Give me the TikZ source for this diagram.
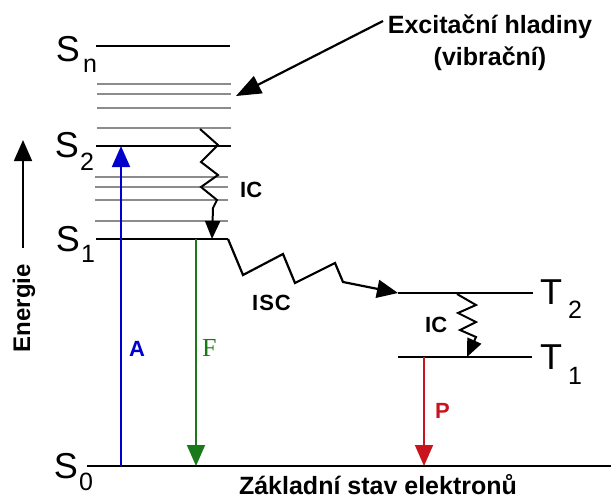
\documentclass[tikz,border=0pt]{standalone}
\usepackage{fontspec}
\setmainfont{Liberation Sans}
\newfontfamily\seriffont{Liberation Serif}
\usetikzlibrary{arrows.meta}
\definecolor{levgray}{HTML}{8C8C8C}
\definecolor{ablue}{HTML}{0000CC}
\definecolor{fgreen}{HTML}{1A7A1A}
\definecolor{pred}{HTML}{C8141E}
\begin{document}
\begin{tikzpicture}[x=1pt,y=-1pt,
  level/.style={line width=2.4pt},
  vib/.style={line width=2.2pt, levgray},
  bigS/.style={font=\fontsize{36}{36}\selectfont, inner sep=0pt},
  sublab/.style={font=\fontsize{25}{25}\selectfont, inner sep=0pt},
  lab/.style={font=\bfseries\fontsize{22}{22}\selectfont, inner sep=0pt},
  bigtip/.style={-{Triangle[length=21pt,width=18pt]}},
  smalltip/.style={-{Triangle[length=18pt,width=15pt]}},
  zig/.style={line width=2pt, line join=miter},
  ]
\useasboundingbox (0,0) rectangle (611,499);

% vibrational levels
\foreach \y in {84,94,108,128} \draw[vib] (97,\y) -- (231,\y);
\foreach \y in {177,187,200,221} \draw[vib] (95,\y) -- (228,\y);

% electronic levels
\coordinate (snL) at (96,46);  \coordinate (snR) at (230,46);
\coordinate (s2L) at (96,146); \coordinate (s2R) at (231,146);
\coordinate (s1L) at (96,239); \coordinate (s1R) at (228,239);
\coordinate (s0L) at (87,466); \coordinate (s0R) at (611,466);
\coordinate (t2L) at (398,293); \coordinate (t2R) at (533,293);
\coordinate (t1L) at (398,357); \coordinate (t1R) at (532,357);
\draw[level] (snL) -- (snR);
\draw[level] (s2L) -- (s2R);
\draw[level] (s1L) -- (s1R);
\draw[level] (s0L) -- (s0R);
\draw[level] (t2L) -- (t2R);
\draw[level] (t1L) -- (t1R);

% level labels
\node[bigS, anchor=base east] (Sn) at (80,61) {S};
\node[sublab, anchor=base west] (Snsub) at (83,72) {n};
\node[bigS, anchor=base east] (S2) at (79,157) {S};
\node[sublab, anchor=base west] (S2sub) at (80,170) {2};
\node[bigS, anchor=base east] (S1) at (80,251) {S};
\node[sublab, anchor=base west] (S1sub) at (81,262) {1};
\node[bigS, anchor=base east] (S0) at (78,478) {S};
\node[sublab, anchor=base west] (S0sub) at (79,490) {0};
\node[bigS, anchor=base west] (T2) at (540,304) {T};
\node[sublab, anchor=base west] (T2sub) at (568,318) {2};
\node[bigS, anchor=base west] (T1) at (540,369) {T};
\node[sublab, anchor=base west] (T1sub) at (568,384) {1};

% radiative transitions
\coordinate (aBot) at (121,466); \coordinate (aTop) at (121,146);
\draw[ablue, line width=1.8pt, bigtip] (aBot) -- (aTop);
\coordinate (fTop) at (196,239); \coordinate (fBot) at (196,466);
\draw[fgreen, line width=1.8pt, bigtip] (fTop) -- (fBot);
\coordinate (pTop) at (424,357); \coordinate (pBot) at (424,466);
\draw[pred, line width=1.8pt, bigtip] (pTop) -- (pBot);
\node[lab, ablue, anchor=base west] (A) at (129,356) {A};
\node[font=\seriffont\fontsize{26}{26}\selectfont, fgreen, inner sep=0pt, anchor=base west] (F) at (202,356) {F};
\node[lab, pred, anchor=base west] (P) at (435,418) {P};

% internal conversion S2 -> S1
\coordinate (ic1s) at (200,129); \coordinate (ic1e) at (212,239);
\draw[zig, smalltip] (ic1s) -- (218,145) -- (201,162) -- (218,175) -- (201,187) -- (217,200) -- (213,208) -- (ic1e);
\node[lab, anchor=base west] (IC1) at (240,197) {IC};

% intersystem crossing
\draw[line width=2.2pt, line join=miter, bigtip] (s1R) -- (243,275) -- (283,254) -- (295,283) -- (335,263) -- (343,282) -- (t2L);
\node[lab, anchor=base west] (ISC) at (252,310) {I\kern1pt S\kern1pt C};

% internal conversion T2 -> T1
\coordinate (ic2s) at (457,294); \coordinate (ic2e) at (467,357);
\draw[zig, smalltip] (ic2s) -- (476,305) -- (458,313) -- (476,322) -- (460,330) -- (476,337) -- (ic2e);
\node[lab, anchor=base west] (IC2) at (425,332) {IC};

% energy axis
\coordinate (eBot) at (23,248); \coordinate (eTop) at (23,140);
\draw[line width=1.8pt, bigtip] (eBot) -- (eTop);
\node[font=\bfseries\fontsize{24}{24}\selectfont, rotate=90, inner sep=0pt] (E) at (24,308) {Energie};

% annotation
\node[font=\bfseries\fontsize{25}{32}\selectfont, align=center, anchor=north, inner sep=0pt] (exc) at (490,15) {Excitační hladiny\\(vibrační)};
\coordinate (excS) at (383,21); \coordinate (excT) at (236,96);
\draw[line width=2.2pt, -{Triangle[length=25pt,width=19pt]}] (excS) -- (excT);

\node[font=\bfseries\fontsize{25}{25}\selectfont, anchor=base, inner sep=0pt] (ground) at (378,494) {Základní stav elektronů};
\end{tikzpicture}
\end{document}
